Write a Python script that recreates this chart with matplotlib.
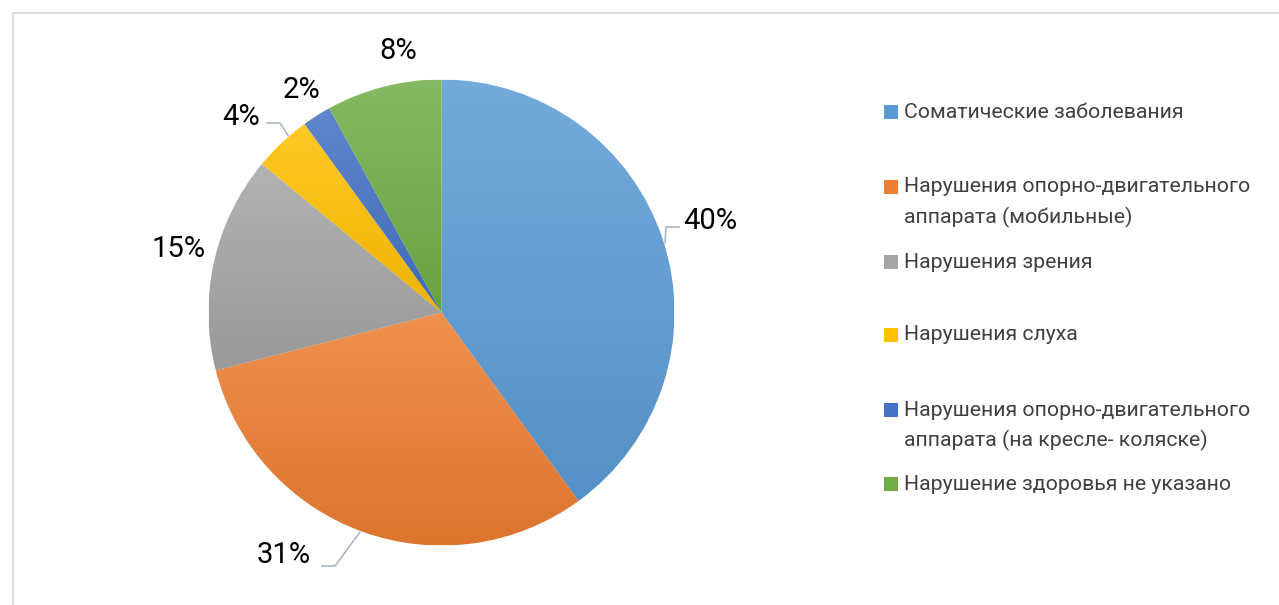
import matplotlib
matplotlib.use("Agg")
import matplotlib.pyplot as plt
from matplotlib.patches import Rectangle
import numpy as np

categories = ["Соматические заболевания",
              "Нарушения опорно-двигательного\nаппарата (мобильные)",
              "Нарушения зрения",
              "Нарушения слуха",
              "Нарушения опорно-двигательного\nаппарата (на кресле- коляске)",
              "Нарушение здоровья не указано"]
values = [40, 31, 15, 4, 2, 8]
labels = ["40%", "31%", "15%", "4%", "2%", "8%"]
colors = ["#5B9BD5", "#ED7D31", "#A5A5A5", "#FFC000", "#4472C4", "#70AD47"]

W, H = 1279, 605
fig = plt.figure(figsize=(W / 100, H / 100), dpi=100)
ax = fig.add_axes([0, 0, 1, 1])
ax.set_xlim(0, W)
ax.set_ylim(H, 0)
ax.axis("off")

# border of the chart area
ax.plot([12.5, 12.5, W + 5], [H + 5, 12.5, 12.5], color="#D9DEE4", lw=1.5)

# pie drawn in a separate axes so orientation stays normal
cx, cy, r = 441.5, 312.5, 233
pax = fig.add_axes([(cx - r) / W, 1 - (cy + r) / H, 2 * r / W, 2 * r / H])
pax.set_xlim(-1, 1)
pax.set_ylim(-1, 1)
pax.axis("off")
wedges, _ = pax.pie(values, startangle=90, counterclock=False, radius=1,
                    colors=colors, wedgeprops=dict(linewidth=0.6, edgecolor="white"))
pax.set_xlim(-1, 1)
pax.set_ylim(-1, 1)


def shade(c, f):
    c = np.array(matplotlib.colors.to_rgb(c))
    if f >= 0:
        return c + (1 - c) * f
    return c * (1 + f)


# vertical gradient per slice (light at top, darker at bottom)
for w, c in zip(wedges, colors):
    bb = w.get_path().get_extents(w.get_patch_transform())
    top, bot = shade(c, 0.15), shade(c, -0.07)
    t = np.linspace(0, 1, 256)[:, None]
    grad = (top[None, :] * (1 - t) + bot[None, :] * t)[:, None, :]
    im = pax.imshow(grad, extent=[bb.x0, bb.x1, bb.y0, bb.y1], origin="upper",
                    aspect="auto", zorder=w.get_zorder() + 0.1)
    im.set_clip_path(w)
    pax.set_xlim(-1, 1)
    pax.set_ylim(-1, 1)

lab_font = ["Roboto", "DejaVu Sans"]
label_pos = [(710, 221), (284, 555), (179, 249), (241, 117), (301, 90), (398, 51)]
for (x, y), t in zip(label_pos, labels):
    ax.text(x, y, t, fontsize=21, family=lab_font, color="#000000",
            ha="center", va="center")

# leader lines
lead_col = "#A9B7C9"
ax.plot([665, 666, 679], [243, 227, 227], color=lead_col, lw=1.2)
ax.plot([360, 335, 322], [532, 566, 566], color=lead_col, lw=1.2)
ax.plot([267, 280, 289], [123, 123, 137], color=lead_col, lw=1.2)

# legend (marker sits on the first line of each entry)
leg_y = [112, 187, 262, 335, 410, 484]
line_step = 30
for y, t, c in zip(leg_y, categories, colors):
    ax.add_patch(Rectangle((884, y - 7), 14, 14, facecolor=c, edgecolor="none"))
    for i, line in enumerate(t.split("\n")):
        ax.text(904, y + i * line_step, line, fontsize=15.3, family=lab_font,
                color="#404040", ha="left", va="center")

fig.savefig("out.png", dpi=100, facecolor="white")
